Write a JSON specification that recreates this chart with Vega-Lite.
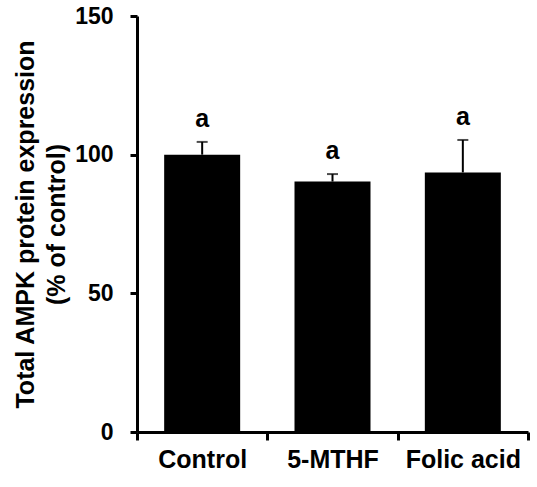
{
  "$schema": "https://vega.github.io/schema/vega-lite/v6.json",
  "autosize": {"type": "none"},
  "width": 391,
  "height": 416,
  "padding": {"left": 137, "top": 16, "right": 9, "bottom": 55},
  "background": "white",
  "config": {
    "view": {"stroke": null},
    "font": "Liberation Sans",
    "axis": {
      "domainColor": "black", "domainWidth": 3, "tickColor": "black", "tickWidth": 3,
      "labelColor": "black", "labelFont": "Liberation Sans", "labelFontWeight": "bold",
      "titleColor": "black", "titleFont": "Liberation Sans", "titleFontWeight": "bold",
      "grid": false
    }
  },
  "data": {
    "values": [
      {"group": "Control", "value": 100, "upper": 104.6, "sig": "a"},
      {"group": "5-MTHF", "value": 90.3, "upper": 93.0, "sig": "a"},
      {"group": "Folic acid", "value": 93.6, "upper": 105.3, "sig": "a"}
    ]
  },
  "encoding": {
    "x": {
      "field": "group", "type": "nominal", "sort": ["Control", "5-MTHF", "Folic acid"],
      "scale": {"paddingInner": 0, "paddingOuter": 0},
      "axis": {"title": null, "labelAngle": 0, "labelFontSize": 25, "tickSize": 8, "labelPadding": 7, "tickBand": "extent"}
    }
  },
  "layer": [
    {
      "mark": {"type": "bar", "color": "black", "size": 76},
      "encoding": {
        "y": {
          "field": "value", "type": "quantitative",
          "scale": {"domain": [0, 150], "nice": false},
          "axis": {
            "values": [0, 50, 100, 150], "labelFontSize": 23, "tickSize": 7, "labelPadding": 17,
            "title": ["Total AMPK protein expression", "(% of control)"],
            "titleFontSize": 25, "titleLineHeight": 31, "titlePadding": 5
          }
        }
      }
    },
    {
      "mark": {"type": "rule", "color": "black", "strokeWidth": 2},
      "encoding": {
        "y": {"field": "value", "type": "quantitative"},
        "y2": {"field": "upper"}
      }
    },
    {
      "mark": {"type": "tick", "color": "black", "size": 11, "thickness": 2, "orient": "horizontal"},
      "encoding": {
        "y": {"field": "upper", "type": "quantitative"}
      }
    },
    {
      "mark": {"type": "text", "fontSize": 25, "fontWeight": "bold", "baseline": "alphabetic", "dy": -15, "color": "black"},
      "encoding": {
        "y": {"field": "upper", "type": "quantitative"},
        "text": {"field": "sig"}
      }
    }
  ]
}
